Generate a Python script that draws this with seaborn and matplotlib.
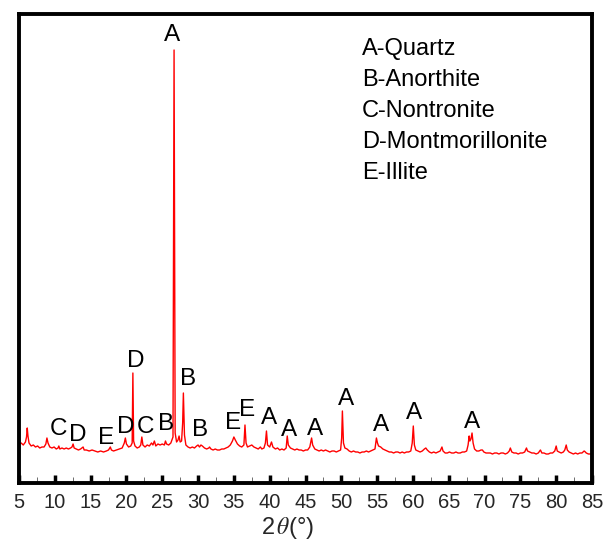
import matplotlib
matplotlib.use("Agg")
import matplotlib.pyplot as plt
import seaborn as sns
import pandas as pd
from matplotlib.ticker import MultipleLocator

# ---- data ----
two_theta = [
    5.0, 5.3, 5.6, 5.9, 6.05, 6.15, 6.25, 6.4, 6.7, 7.0,
    7.3, 7.6, 7.9, 8.2, 8.5, 8.75, 8.9, 9.05, 9.3, 9.6,
    9.9, 10.2, 10.45, 10.56, 10.7, 11.0, 11.3, 11.6, 11.9, 12.2,
    12.4, 12.55, 12.7, 13.0, 13.3, 13.6, 13.95, 14.1, 14.4, 14.8,
    15.2, 15.6, 16.0, 16.4, 16.8, 17.2, 17.5, 17.75, 17.9, 18.2,
    18.6, 19.0, 19.4, 19.7, 19.85, 20.0, 20.3, 20.6, 20.8, 20.9,
    21.0, 21.2, 21.5, 21.8, 22.0, 22.15, 22.3, 22.6, 22.9, 23.2,
    23.5, 23.7, 23.9, 24.1, 24.4, 24.7, 25.0, 25.3, 25.45, 25.6,
    25.9, 26.2, 26.5, 26.65, 26.8, 27.0, 27.2, 27.35, 27.5, 27.7,
    27.85, 27.95, 28.1, 28.3, 28.6, 28.9, 29.2, 29.5, 29.8, 30.0,
    30.2, 30.4, 30.6, 30.9, 31.2, 31.5, 31.6, 31.8, 32.1, 32.4,
    32.7, 33.0, 33.3, 33.6, 33.9, 34.2, 34.5, 34.8, 35.0, 35.2,
    35.5, 35.8, 36.1, 36.4, 36.55, 36.7, 36.9, 37.2, 37.5, 37.8,
    38.1, 38.4, 38.7, 38.9, 39.2, 39.4, 39.55, 39.7, 40.0, 40.25,
    40.45, 40.8, 41.1, 41.4, 41.7, 42.0, 42.3, 42.45, 42.6, 42.9,
    43.2, 43.5, 43.8, 44.1, 44.4, 44.7, 45.0, 45.3, 45.6, 45.85,
    46.0, 46.3, 46.6, 46.9, 47.2, 47.5, 47.8, 48.1, 48.4, 48.7,
    49.0, 49.3, 49.6, 49.9, 50.05, 50.15, 50.3, 50.5, 50.8, 51.1,
    51.4, 51.7, 52.0, 52.3, 52.6, 52.9, 53.2, 53.5, 53.8, 54.1,
    54.4, 54.7, 54.9, 55.05, 55.2, 55.5, 55.8, 56.1, 56.4, 56.7,
    57.0, 57.3, 57.6, 57.9, 58.2, 58.5, 58.8, 59.1, 59.4, 59.7,
    59.9, 60.05, 60.2, 60.4, 60.7, 61.0, 61.3, 61.6, 61.8, 62.0,
    62.3, 62.6, 62.9, 63.2, 63.5, 63.8, 64.05, 64.2, 64.5, 64.8,
    65.1, 65.4, 65.7, 66.0, 66.3, 66.6, 66.9, 67.2, 67.5, 67.7,
    67.85, 67.95, 68.1, 68.25, 68.4, 68.6, 68.9, 69.2, 69.5, 69.7,
    69.9, 70.2, 70.5, 70.8, 71.1, 71.4, 71.7, 72.0, 72.3, 72.6,
    72.9, 73.2, 73.45, 73.6, 73.8, 74.1, 74.4, 74.7, 75.0, 75.3,
    75.6, 75.85, 76.0, 76.3, 76.6, 76.9, 77.2, 77.5, 77.8, 78.0,
    78.3, 78.6, 78.9, 79.2, 79.5, 79.8, 80.0, 80.15, 80.4, 80.7,
    81.0, 81.2, 81.4, 81.55, 81.8, 82.1, 82.4, 82.7, 83.0, 83.3,
    83.6, 83.9, 84.0, 84.2, 84.5, 84.8, 85.0,
]
intensity = [
    39, 40, 38, 41, 46, 55, 47, 40, 37, 38,
    36, 37, 35, 36, 36, 39, 45, 40, 36, 35,
    36, 34, 35, 37, 34, 35, 34, 35, 34, 35,
    36, 39, 35, 34, 33, 34, 36, 33, 33, 32,
    33, 32, 31, 32, 31, 32, 33, 36, 33, 32,
    33, 34, 35, 40, 45, 39, 36, 37, 40, 110,
    42, 37, 35, 36, 38, 46, 38, 36, 38, 37,
    40, 38, 42, 37, 39, 38, 39, 38, 42, 39,
    38, 40, 46, 433, 50, 41, 43, 47, 41, 42,
    60, 90, 48, 38, 36, 35, 36, 35, 37, 38,
    36, 38, 37, 35, 34, 35, 36, 34, 33, 34,
    33, 33, 34, 34, 35, 36, 38, 42, 46, 43,
    39, 37, 36, 38, 58, 40, 36, 37, 38, 36,
    35, 34, 36, 34, 35, 40, 52, 38, 36, 41,
    36, 34, 35, 33, 34, 33, 35, 47, 38, 35,
    34, 33, 34, 33, 33, 32, 33, 33, 36, 45,
    38, 34, 33, 32, 33, 32, 33, 32, 31, 32,
    32, 31, 32, 33, 45, 72, 40, 35, 34, 32,
    31, 32, 31, 31, 30, 31, 31, 32, 31, 32,
    33, 34, 45, 40, 37, 36, 34, 33, 32, 31,
    31, 30, 31, 31, 30, 31, 30, 31, 31, 32,
    40, 57, 38, 33, 32, 31, 32, 34, 35, 33,
    31, 30, 31, 30, 31, 32, 36, 32, 30, 30,
    31, 30, 30, 31, 30, 30, 31, 31, 32, 38,
    47, 42, 44, 50, 40, 34, 32, 32, 33, 33,
    31, 30, 30, 30, 29, 30, 30, 29, 30, 30,
    29, 30, 32, 35, 31, 30, 30, 29, 30, 30,
    31, 35, 32, 31, 30, 30, 29, 30, 33, 30,
    30, 29, 29, 30, 30, 32, 37, 32, 31, 30,
    31, 33, 38, 33, 31, 30, 29, 30, 29, 30,
    30, 32, 31.5, 30, 29, 29, 29,
]
assert len(two_theta) == len(intensity)

phase_letters = ["C", "D", "E", "D", "D", "C", "B", "A", "B", "B",
                 "E", "E", "A", "A", "A", "A", "A", "A", "A"]
letter_theta = [10.56, 13.2, 17.2, 19.9, 21.3, 22.7, 25.6, 26.4, 28.6, 30.3,
                34.9, 36.85, 39.9, 42.7, 46.3, 50.6, 55.5, 60.2, 68.3]
letter_height = [54, 48, 45, 56, 122, 56, 59, 448, 104, 53,
                 60, 73, 65, 53, 54, 84, 58, 70, 61]

legend_lines = ["A-Quartz", "B-Anorthite", "C-Nontronite",
                "D-Montmorillonite", "E-Illite"]

x_ticks = list(range(5, 90, 5))

# ---- plot ----
sns.set_theme(style="white")
plt.rcParams["font.family"] = ["Liberation Sans", "DejaVu Sans"]
plt.rcParams["mathtext.fontset"] = "stix"

fig = plt.figure(figsize=(6.08, 5.44), dpi=100)
ax = fig.add_axes([19 / 608, 1 - 483 / 544, 573 / 608, 469 / 544])

df = pd.DataFrame({"two_theta": two_theta, "intensity": intensity})
sns.lineplot(data=df, x="two_theta", y="intensity", ax=ax, color="#ff0000",
             linewidth=1.0, sort=False, estimator=None)

for letter, t, h in zip(phase_letters, letter_theta, letter_height):
    ax.text(t, h, letter, ha="center", va="center", fontsize=17.5,
            color="black")

ys = [0.925, 0.859, 0.793, 0.727, 0.661]
for line, yy in zip(legend_lines, ys):
    ax.text(0.599, yy, line, transform=ax.transAxes, ha="left", va="center",
            fontsize=17, color="black")

ax.set_xlim(5, 85)
ax.set_ylim(0, 469)
ax.set_xticks(x_ticks)
ax.set_xticklabels([str(t) for t in x_ticks])
ax.xaxis.set_minor_locator(MultipleLocator(2.5))
ax.set_yticks([])
ax.set_ylabel("")
ax.set_xlabel(r"2$\,\theta$(°)", fontsize=17)
ax.xaxis.set_label_coords((288 - 19) / 573, -0.069)

ax.tick_params(axis="x", which="major", direction="in", length=6, width=2.5,
               color="black", labelsize=14.5, pad=7, bottom=True, top=False)
ax.tick_params(axis="x", which="minor", direction="in", length=4, width=0.6,
               color="#555555", bottom=True, top=False)
for s in ax.spines.values():
    s.set_visible(True)
    s.set_color("black")
    s.set_linewidth(2.8)

fig.savefig("out.png", dpi=100)
